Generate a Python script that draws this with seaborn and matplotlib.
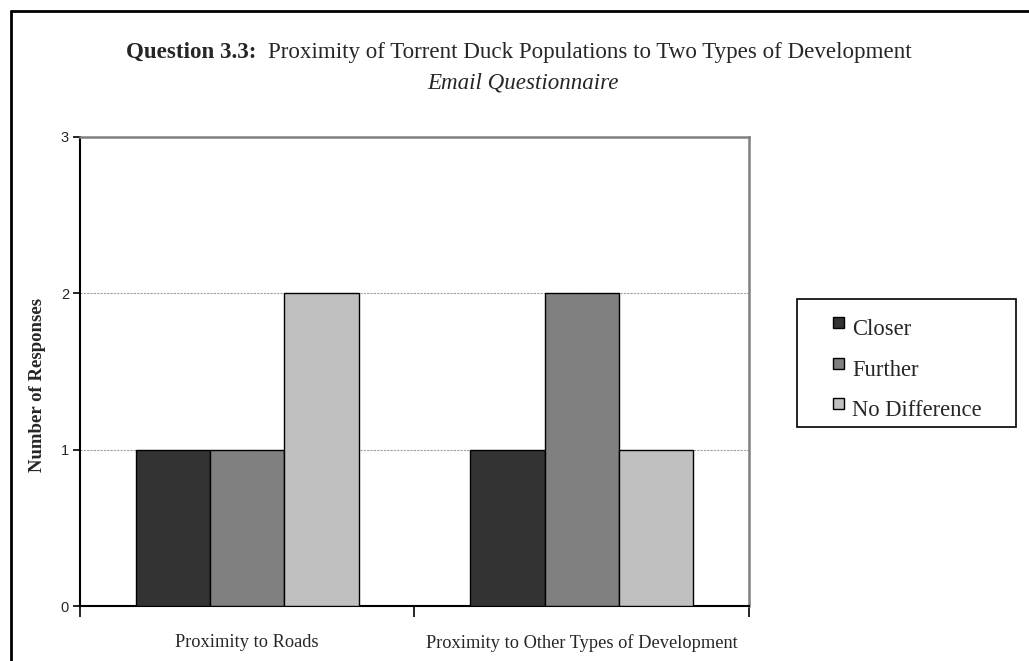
import matplotlib
matplotlib.use("Agg")
import matplotlib.pyplot as plt
from matplotlib.lines import Line2D
from matplotlib.patches import Rectangle
import seaborn as sns
import pandas as pd

categories = ["Proximity to Roads", "Proximity to Other Types of Development"]
responses = ["Closer", "Further", "No Difference"]
closer = [1, 1]
further = [1, 2]
no_difference = [2, 1]
colors = ["#333333", "#808080", "#c0c0c0"]
yticks = [0, 1, 2, 3]

rows = []
for i, cat in enumerate(categories):
    for name, vals in zip(responses, [closer, further, no_difference]):
        rows.append({"category": cat, "response": name, "count": vals[i]})
df = pd.DataFrame(rows)

sns.set_theme(style="white")
plt.rcParams["font.family"] = ["Liberation Serif", "DejaVu Serif"]

W, H = 1029, 661
fig = plt.figure(figsize=(W / 100, H / 100), dpi=100)


def fx(px):
    return px / W


def fy(py):
    return 1 - py / H


ax = fig.add_axes([fx(80), fy(606), 669 / W, 469 / H])

sns.barplot(data=df, x="category", y="count", hue="response", order=categories,
            hue_order=responses, palette=colors, width=0.667, gap=0,
            edgecolor="black", linewidth=1.0, saturation=1, legend=False, ax=ax,
            zorder=3)

ax.set_xlim(-0.5, 1.5)
ax.set_ylim(0, 3)
ax.set_yticks(yticks)
ax.set_yticklabels([str(t) for t in yticks], fontfamily="Liberation Sans", fontsize=10.5)
ax.yaxis.grid(True, color="#a0a0a0", linestyle=(0, (2, 1)), linewidth=0.8, zorder=0)
ax.xaxis.grid(False)

# category boundaries carry the tick marks, centres carry the labels
ax.set_xticks([-0.5, 0.5, 1.5])
ax.set_xticklabels([])
ax.set_xticks([0, 1], minor=True)
ax.set_xticklabels(categories, minor=True, fontsize=13.2)
ax.tick_params(axis="x", which="major", direction="out", length=8, width=1.2,
               color="black", bottom=True)
ax.tick_params(axis="x", which="minor", length=0, pad=20)
ax.tick_params(axis="y", direction="out", length=5, width=1.2, color="black",
               left=True, pad=3)

ax.set_xlabel("")
ax.set_ylabel("")

for side in ["left", "bottom"]:
    ax.spines[side].set_color("black")
    ax.spines[side].set_linewidth(1.5)
for side in ["top", "right"]:
    ax.spines[side].set_visible(True)
    ax.spines[side].set_color("#808080")
    ax.spines[side].set_linewidth(1.8)

fig.text(fx(38), fy(385), "Number of Responses", fontsize=13.5, fontweight="bold",
         rotation=90, ha="center", va="center")

# title: bold prefix followed by regular text
t1 = fig.text(fx(126), fy(58), "Question 3.3:", fontsize=16.6,
              fontweight="bold", ha="left", va="baseline")
fig.canvas.draw()
bb = t1.get_window_extent()
fig.text(fx(bb.x1 + 12), fy(58),
         "Proximity of Torrent Duck Populations to Two Types of Development",
         fontsize=16.6, ha="left", va="baseline")
fig.text(fx(523), fy(88), "Email Questionnaire", fontsize=16.6,
         fontstyle="italic", ha="center", va="baseline")

# legend box with raised square swatches
fig.add_artist(Rectangle((fx(797), fy(427)), 219 / W, 128 / H, facecolor="white",
                         edgecolor="black", linewidth=1.2,
                         transform=fig.transFigure))
baselines = [335, 376, 416]
for name, color, base in zip(responses, colors, baselines):
    fig.add_artist(Rectangle((fx(833), fy(base - 7)), 11 / W, 11 / H,
                             facecolor=color, edgecolor="black", linewidth=1.0,
                             transform=fig.transFigure))
    fig.text(fx(852), fy(base), name, fontsize=16.3, ha="left", va="baseline")

# outer frame of the chart area
fig.add_artist(Line2D([fx(11), fx(11)], [0, fy(11)], color="black",
                      linewidth=2, transform=fig.transFigure))
fig.add_artist(Line2D([fx(11), 1], [fy(11), fy(11)], color="black",
                      linewidth=2, transform=fig.transFigure))

fig.savefig("out.png", dpi=100, facecolor="white")
